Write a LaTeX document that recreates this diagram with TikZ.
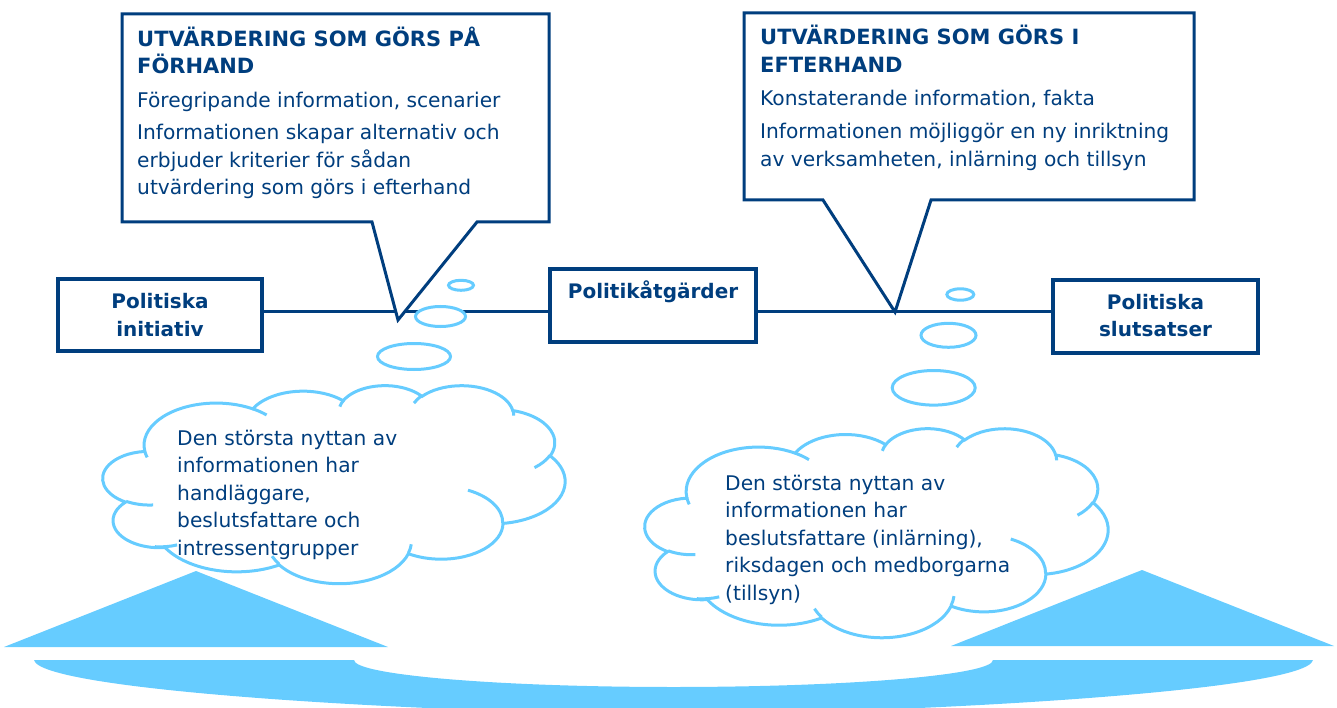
\documentclass[tikz,border=0pt]{standalone}
\usepackage{fontspec}
\setmainfont{DejaVu Sans}
\definecolor{dblue}{RGB}{0,62,126}
\definecolor{lblue}{RGB}{102,204,255}
% PowerPoint-style cloud outline (43200 units scaled by 1/100), visual angles converted to parametric
\def\cldmain{}
\def\cldinner{}
\newcommand\mkarc[4]{%
  \pgfmathsetmacro\cA{#3}%
  \pgfmathsetmacro\cB{#3+#4}%
  \pgfmathsetmacro\tA{atan2((#1)*sin(\cA),(#2)*cos(\cA))}%
  \pgfmathsetmacro\tB{atan2((#1)*sin(\cB),(#2)*cos(\cB))}%
  \pgfmathsetmacro\dU{\tB-\tA}%
  \pgfmathsetmacro\dV{(#4)>0 ? (\dU<0 ? \dU+360 : \dU) : (\dU>0 ? \dU-360 : \dU)}%
  \edef\arcseg{arc[start angle=\tA, delta angle=\dV, x radius=#1, y radius=#2]}%
}
\newcommand\addmain[4]{\mkarc{#1}{#2}{#3}{#4}\xdef\cldmain{\cldmain\space\arcseg}}
\newcommand\addinner[6]{\mkarc{#3}{#4}{#5}{#6}\xdef\cldinner{\cldinner\space(#1,#2)\space\arcseg}}
\addmain{67.53}{91.90}{-190.48748}{123.78053}
\addmain{53.33}{72.67}{-144.10238}{89.94523}
\addmain{43.65}{59.45}{-145.80792}{99.72302}
\addmain{48.57}{65.95}{-130.98607}{117.24173}
\addmain{53.33}{72.73}{-78.70888}{109.02692}
\addmain{67.75}{92.20}{-46.26725}{130.269}
\addmain{57.85}{78.67}{0.62502}{114.03333}
\addmain{67.52}{92.15}{22.4516}{115.17255}
\addmain{77.20}{105.43}{66.24263}{75.71102}
\addmain{43.60}{59.18}{-274.94208}{146.73557}
\addmain{43.45}{59.45}{-246.8285}{152.51885}
\addinner{46.93}{261.77}{43.45}{59.45}{86.742}{26.4295}
\addinner{69.28}{348.99}{43.60}{59.18}{73.61047}{20.944}
\addinner{164.78}{390.90}{67.52}{92.15}{137.62415}{14.0811}
\addinner{288.27}{347.51}{67.52}{92.15}{6.45327}{15.99835}
\addinner{341.29}{229.54}{57.85}{78.67}{-70.29235}{70.91737}
\addinner{417.98}{153.54}{53.33}{72.73}{30.31803}{27.7515}
\addinner{383.24}{54.26}{48.57}{65.95}{-13.74433}{14.8589}
\addinner{290.78}{39.52}{48.57}{65.95}{-149.18145}{18.19537}
\addinner{221.41}{47.20}{43.65}{59.45}{-163.49427}{17.68635}
\addinner{140.00}{51.92}{67.53}{91.90}{-66.70695}{12.31935}
\addinner{41.27}{157.89}{67.53}{91.90}{157.65435}{11.85817}
\newcommand\drawcloud{%
  \edef\tmpcloud{\noexpand\draw[cloudline, fill=white] (39,143.7) \cldmain\space -- cycle;%
    \noexpand\draw[cloudline] \cldinner;}%
  \tmpcloud}
\begin{document}
\begin{tikzpicture}[x=1pt, y=1pt, yscale=-1,
  cloudline/.style={draw=lblue, line width=3pt},
  bubble/.style={draw=lblue, line width=3pt, fill=white},
  conn/.style={draw=dblue, line width=3pt},
  callout/.style={draw=dblue, line width=3pt, fill=white, line join=miter},
  pbox/.style={draw=dblue, line width=4.5pt, fill=white, inner sep=0pt},
  body/.style={inner sep=0pt, anchor=base west, text=dblue, font=\fontsize{20.2}{24}\selectfont},
  ttl/.style={inner sep=0pt, anchor=base west, text=dblue, font=\fontsize{21}{24}\selectfont\bfseries},
  lbl/.style={inner sep=0pt, anchor=base, text=dblue, font=\fontsize{20}{24}\selectfont\bfseries}]
\useasboundingbox (0,0) rectangle (1337,708);

% seesaw base
\fill[lblue] (4,647) -- (196,571) -- (388,647) -- cycle;
\fill[lblue] (951,646) -- (1142,570) -- (1334,646) -- cycle;
\fill[lblue] (34,660) -- (354,660) arc[start angle=180, end angle=0, x radius=319.5, y radius=27]
  -- (1313,660) .. controls (1307,690) and (947,712) .. (673.5,715)
  .. controls (400,712) and (40,690) .. (34,660) -- cycle;

% clouds
\begin{scope}[shift={(103,385)}, xscale=1.0694, yscale=0.4583]
  \drawcloud
\end{scope}
\begin{scope}[shift={(645,428)}, xscale=1.0718, yscale=0.4838]
  \drawcloud
\end{scope}

% boxes
\node[pbox, minimum width=204pt, minimum height=72pt] (pi) at (160,315) {};
\node[pbox, minimum width=206pt, minimum height=73pt] (pa) at (653,305.5) {};
\node[pbox, minimum width=205pt, minimum height=73pt] (ps) at (1155.5,316.5) {};

% connectors
\coordinate (ln) at (0,311);
\draw[conn] (pi.east |- ln) -- (pa.west |- ln);
\draw[conn] (pa.east |- ln) -- (ps.west |- ln);

% callouts
\draw[callout] (122,14) -- (549,14) -- (549,222) -- (477,222) -- (398,320) -- (372,222) -- (122,222) -- cycle;
\draw[callout] (744,13) -- (1194,13) -- (1194,200) -- (931,200) -- (895,312) -- (823,200) -- (744,200) -- cycle;

% thought bubbles
\draw[bubble] (461,285.3) ellipse [x radius=12.5, y radius=5];
\draw[bubble] (440.5,316.5) ellipse [x radius=25, y radius=10];
\draw[bubble] (414,356.5) ellipse [x radius=36.5, y radius=13];
\draw[bubble] (960.3,294.5) ellipse [x radius=13.5, y radius=5.7];
\draw[bubble] (948.5,335.3) ellipse [x radius=27.5, y radius=12];
\draw[bubble] (933.7,387.8) ellipse [x radius=41.5, y radius=17.3];

% box labels
\node[lbl] (piA) at (160,308.5) {Politiska};
\node[lbl] (piB) at (160,336) {initiativ};
\node[lbl] (paA) at (653,298.3) {Politikåtgärder};
\node[lbl] (psA) at (1155.5,309.3) {Politiska};
\node[lbl] (psB) at (1155.5,336.7) {slutsatser};

% left callout text
\node[ttl] (l1) at (137,46.5) {UTVÄRDERING SOM GÖRS PÅ};
\node[ttl] (l2) at (137,73.5) {FÖRHAND};
\node[body] (l3) at (137,108) {Föregripande information, scenarier};
\node[body] (l4) at (137,140) {Informationen skapar alternativ och};
\node[body] (l5) at (137,167.5) {erbjuder kriterier för sådan};
\node[body] (l6) at (137,195) {utvärdering som görs i efterhand};

% right callout text
\node[ttl] (r1) at (760,45) {UTVÄRDERING SOM GÖRS I};
\node[ttl] (r2) at (760,72.5) {EFTERHAND};
\node[body] (r3) at (760,106) {Konstaterande information, fakta};
\node[body] (r4) at (760,138.3) {Informationen möjliggör en ny inriktning};
\node[body] (r5) at (760,166.5) {av verksamheten, inlärning och tillsyn};

% left cloud text
\node[body] (c1) at (177,445) {Den största nyttan av};
\node[body] (c2) at (177,472.6) {informationen har};
\node[body] (c3) at (177,500.2) {handläggare,};
\node[body] (c4) at (177,527.8) {beslutsfattare och};
\node[body] (c5) at (177,555.4) {intressentgrupper};

% right cloud text
\node[body] (d1) at (725,490) {Den största nyttan av};
\node[body] (d2) at (725,517.6) {informationen har};
\node[body] (d3) at (725,545.2) {beslutsfattare (inlärning),};
\node[body] (d4) at (725,572.8) {riksdagen och medborgarna};
\node[body] (d5) at (725,600.4) {(tillsyn)};
\end{tikzpicture}
\end{document}
